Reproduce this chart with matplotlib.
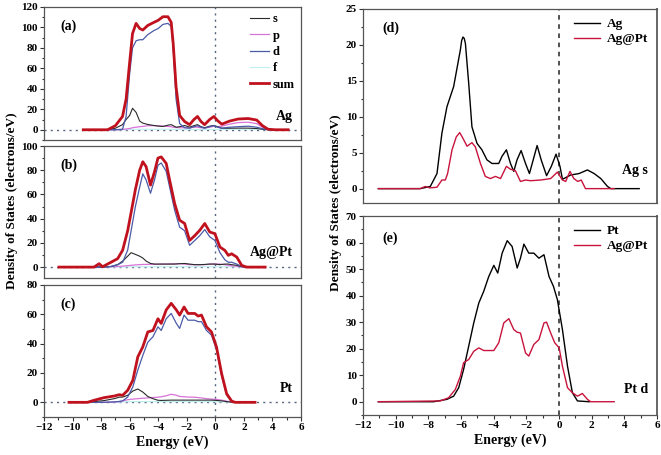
import matplotlib
matplotlib.use("Agg")
import matplotlib.pyplot as plt
from matplotlib.ticker import MultipleLocator, AutoMinorLocator

plt.rcParams['font.family'] = ['Liberation Serif', 'DejaVu Serif']
plt.rcParams['font.weight'] = 'bold'

# (a) Ag projected DOS
e_a = [-9.25, -7.55, -7.0, -6.5, -6.25, -6.0, -5.8, -5.55, -5.3, -5.08, -4.73, -4.3, -4.0, -3.67, -3.32,
       -3.09, -2.95, -2.75, -2.5, -2.15, -1.8, -1.5, -1.25, -1.0, -0.75, -0.4, -0.1, 0.15, 0.45, 1.0,
       1.6, 2.3, 2.9, 3.3, 3.7, 4.2, 5.1]
s_a = [0, 0, 1.5, 5, 10, 14, 21, 17, 8.5, 6.5, 5.2, 4.2, 3.6, 3.2, 4.5, 5, 4, 2.5, 3, 4.2, 2.6, 4, 5, 3, 2,
       3.5, 4.2, 3, 1.5, 1.5, 1.6, 1.6, 1.2, 0.5, 0, 0, 0]
p_a = [0, 0, 0, 0.3, 0.8, 1.2, 2, 2.5, 3, 3.3, 4, 4, 3.8, 3.6, 3.2, 3, 2.5, 2.2, 2, 2, 2, 2.5, 2.5, 2, 1.8,
       2.5, 3.5, 3, 3.5, 5.5, 7, 7.4, 6, 2.5, 0.3, 0, 0]
d_a = [0, 0, 0, 0.5, 13, 55, 80, 87, 88, 88, 93, 97, 99, 103, 104, 101, 80, 30, 6, 2, 1.5, 3, 4, 2.5, 1.5,
       3, 4, 2.5, 1.5, 2.5, 3, 3.5, 2.5, 1, 0.2, 0, 0]
f_a = [0, 0, 0, 0, 0.1, 0.3, 0.4, 0.5, 0.5, 0.5, 0.5, 0.5, 0.5, 0.5, 0.5, 0.5, 0.4, 0.3, 0.2, 0.2, 0.2, 0.3,
       0.3, 0.2, 0.2, 0.3, 0.4, 0.3, 0.3, 0.4, 0.5, 0.5, 0.4, 0.2, 0, 0, 0]
sum_a = [0, 0, 4, 13, 30, 66, 94, 104, 99, 97.5, 102, 105, 107, 110.5, 110.5, 105, 84, 42, 14, 8, 5, 10, 13,
         8, 5, 10, 13, 9, 5.5, 8.5, 10.5, 11, 9.5, 4, 0.5, 0, 0]

# (b) Ag@Pt
e_b = [-10.95, -8.5, -8.14, -7.9, -7.31, -6.84, -6.49, -6.14, -5.9, -5.6, -5.3, -5.08, -4.85, -4.54, -4.26,
       -4.02, -3.79, -3.44, -3.2, -2.85, -2.5, -2.15, -1.8, -1.44, -1.09, -0.74, -0.39, -0.03, 0.32, 0.67,
       0.91, 1.14, 1.5, 1.85, 2.2, 3.49]
s_b = [0, 0, 0.2, 0, 0.5, 2, 5, 9, 11.9, 10.5, 9, 7.5, 5, 3, 2.5, 2.5, 2.5, 2.5, 2.5, 2.5, 2.8, 3, 2.5, 2, 2,
       2.2, 2.5, 2.5, 2, 2.5, 2.5, 2, 1.5, 0.3, 0, 0]
p_b = [0, 0, 0, 0, 0.3, 0.5, 0.8, 1.2, 1.5, 1.8, 2, 2.2, 2.2, 2.3, 2.3, 2.4, 2.5, 2.5, 2.6, 2.7, 2.8, 2.5, 2,
       2, 2, 2, 2.5, 2.5, 2.5, 2, 1.5, 1, 0.7, 0.2, 0, 0]
d_b = [0, 0, 0, 0, 0.5, 2, 4, 14, 30, 50, 66, 77, 72, 61, 72, 84, 86, 79, 66, 47, 33, 30, 18, 22, 26, 31, 25,
       22, 12, 6, 4, 4, 2.5, 0.5, 0, 0]
f_b = [0, 0, 0, 0, 0, 0.1, 0.1, 0.2, 0.2, 0.3, 0.3, 0.3, 0.3, 0.3, 0.3, 0.3, 0.3, 0.3, 0.3, 0.3, 0.3, 0.3,
       0.3, 0.3, 0.3, 0.3, 0.3, 0.3, 0.3, 0.2, 0.2, 0.2, 0.1, 0, 0, 0]
sum_b = [0, 0, 2.8, 0.3, 4, 7, 14, 30, 45, 64, 80, 87, 83, 67.7, 78.7, 90, 91, 85.6, 71.8, 52.5, 38.7, 36, 22,
         26, 30.4, 36, 29, 27.6, 16.6, 13.8, 9.7, 11, 8.3, 1.4, 0, 0]

# (c) Pt
e_c = [-10.25, -8.96, -8.49, -7.79, -7.08, -6.73, -6.49, -6.14, -5.78, -5.43, -5.08, -4.73, -4.37, -4.02,
       -3.79, -3.44, -3.09, -2.73, -2.5, -2.19, -1.91, -1.44, -1.2, -0.97, -0.62, -0.27, 0.08, 0.44, 0.79,
       1.14, 1.38, 2.78]
s_c = [0, 0, 0.5, 1.2, 2.5, 3.5, 3.6, 4.8, 7.7, 9.1, 7, 4, 2.5, 1.4, 1.3, 1.4, 1.5, 1.5, 1.5, 1.5, 1.5, 1.5,
       1.5, 1.5, 1.5, 1.5, 1.3, 1, 0.5, 0.1, 0, 0]
p_c = [0, 0, 0, 0, 0.2, 0.5, 1, 1.8, 2.2, 2.5, 2.8, 3, 3.3, 3.5, 3.8, 4.5, 5.5, 4.8, 4, 3.8, 3.6, 3.5, 3.2,
       3, 2.5, 2.2, 2, 1.5, 0.8, 0.2, 0, 0]
d_c = [0, 0, 0, 0, 0.3, 0.6, 1, 3.6, 10.5, 22, 32, 41, 44.7, 51.5, 49, 57, 60.6, 53.8, 50.4, 59.5, 56, 56, 55,
       55, 49, 45.8, 36, 18, 5, 0.5, 0, 0]
f_c = [0, 0, 0, 0, 0.1, 0.2, 0.3, 0.4, 0.5, 0.5, 0.5, 0.5, 0.5, 0.5, 0.5, 0.5, 0.5, 0.5, 0.5, 0.5, 0.5, 0.5,
       0.5, 0.5, 0.5, 0.5, 0.4, 0.3, 0.2, 0.1, 0, 0]
sum_c = [0, 0, 1.4, 3.2, 4.3, 5.2, 4.8, 8.2, 15, 31, 37.8, 48, 49, 57, 53.8, 63, 67.5, 63, 59.5, 65, 60.6,
         60.6, 58.8, 59.5, 51.5, 48, 37.8, 19.6, 5.9, 0.9, 0, 0]

# (d) Ag s states
e_ag = [-11.06, -8.5, -7.88, -7.47, -7.17, -6.86, -6.45, -6.04, -5.96, -5.88, -5.8, -5.73, -5.53, -5.33,
        -5.02, -4.72, -4.41, -4.1, -3.69, -3.49, -3.22, -2.97, -2.77, -2.57, -2.32, -2.05, -1.81, -1.58,
        -1.34, -1.09, -0.76, -0.47, -0.18, 0.06, 0.21, 0.72, 1.23, 1.74, 2.15, 2.56, 2.97, 3.17, 4.91]
ag_s = [0, 0, 0.3, 2.1, 7.7, 11.4, 14.2, 19.3, 20.6, 21.1, 20.9, 20.2, 14.7, 8.6, 6.3, 5.4, 4.0, 3.5, 3.5,
        4.5, 5.4, 3.5, 2.4, 4, 5.3, 3.5, 2.1, 4, 6.0, 4, 1.8, 3.1, 4.8, 3.1, 1.3, 1.9, 2.1, 2.6, 2.1, 1.4,
        0.3, 0, 0]
e_agpt_s = [-11.06, -8.5, -8.19, -7.9, -7.47, -7.17, -6.96, -6.82, -6.55, -6.29, -6.08, -5.88, -5.63, -5.33,
            -5.12, -4.81, -4.51, -4.2, -3.89, -3.58, -3.22, -2.97, -2.67, -2.36, -2.05, -1.74, -1.12, -0.51,
            -0.1, 0.21, 0.41, 0.67, 0.91, 1.15, 1.36, 1.62, 3.38]
agpt_s = [0, 0, 0.3, 0.1, 0.2, 1.2, 1.2, 2.1, 5.4, 7.2, 7.8, 7.0, 5.9, 6.4, 5.8, 3.5, 1.7, 1.4, 1.7, 1.4, 3.1,
          2.7, 2.5, 1.0, 1.2, 1.1, 1.2, 1.4, 2.3, 1.2, 1.0, 2.4, 1.4, 1.0, 1.2, 0, 0]

# (e) Pt d states
e_pt = [-11.06, -7.68, -6.86, -6.45, -6.14, -5.84, -5.53, -5.22, -4.91, -4.61, -4.30, -3.99, -3.75, -3.48,
        -3.17, -2.87, -2.56, -2.36, -2.15, -1.85, -1.54, -1.23, -0.92, -0.61, -0.34, -0.1, 0.21, 0.52, 0.82,
        1.13, 1.85]
pt_d = [0, 0, 0.9, 2.1, 5.3, 12.2, 20.9, 29.7, 37.2, 41.6, 47.2, 51.4, 48.5, 56, 60.7, 58.5, 50.4, 54.1, 59.4,
        56, 56, 54.1, 55.4, 47.2, 43.5, 38.5, 27.2, 13.4, 3.4, 0.3, 0]
e_agpt_d = [-11.06, -7.27, -6.76, -6.35, -6.04, -5.84, -5.53, -5.22, -4.91, -4.61, -3.99, -3.69, -3.38, -3.07,
            -2.77, -2.56, -2.36, -2.05, -1.85, -1.54, -1.23, -0.92, -0.76, -0.51, -0.26, 0.01, 0.21, 0.52,
            0.82, 1.13, 1.43, 1.74, 1.94, 3.38]
agpt_d = [0, 0.3, 1.5, 4.6, 9.6, 14.7, 15.9, 19, 20.3, 19.3, 19.3, 22.2, 29.7, 31.3, 27.2, 26.2, 25.9, 18.4,
          17.2, 21.6, 23.4, 29.7, 30, 25.9, 22.2, 20.3, 13.4, 5.3, 3.4, 2.1, 3.1, 0.9, 0, 0]

fig = plt.figure(figsize=(6.61, 4.55), dpi=100)

W, H = 661.0, 455.0
def box(x0, y0, x1, y1):
    return [x0 / W, 1 - y1 / H, (x1 - x0) / W, (y1 - y0) / H]

ax_a = fig.add_axes(box(44, 7, 301, 140))
ax_b = fig.add_axes(box(44, 146, 301, 278))
ax_c = fig.add_axes(box(44, 285, 301, 417))
ax_d = fig.add_axes(box(363, 9, 657, 203))
ax_e = fig.add_axes(box(363, 216, 657, 415))

spine_col = '#555555'
dot_col = '#56657f'

def style(ax, ylim, ymajor, xlabels):
    ax.set_xlim(-12, 6)
    ax.set_ylim(*ylim)
    ax.xaxis.set_major_locator(MultipleLocator(2))
    ax.xaxis.set_minor_locator(AutoMinorLocator(2))
    ax.yaxis.set_major_locator(MultipleLocator(ymajor))
    ax.yaxis.set_minor_locator(AutoMinorLocator(2))
    ax.tick_params(which='both', direction='out', labelsize=8, width=0.8, color='#333333', pad=1.5)
    ax.tick_params(which='major', length=3)
    ax.tick_params(which='minor', length=1.8)
    ax.tick_params(axis='both', which='both', top=False, right=False)
    for sp in ax.spines.values():
        sp.set_color(spine_col)
        sp.set_linewidth(0.9)
    if not xlabels:
        ax.tick_params(axis='x', which='both', bottom=False, labelbottom=False)
    for t in ax.get_xticklabels() + ax.get_yticklabels():
        t.set_fontweight('bold')

left_panels = [
    (ax_a, e_a, s_a, p_a, d_a, f_a, sum_a, (-10, 120), '(a)', 'Ag', 0.15),
    (ax_b, e_b, s_b, p_b, d_b, f_b, sum_b, (-9, 100), '(b)', 'Ag@Pt', 0.17),
    (ax_c, e_c, s_c, p_c, d_c, f_c, sum_c, (-10, 80), '(c)', 'Pt', 0.19),
]
for ax, e, s, p, d, f, tot, ylim, tag, name, ny in left_panels:
    ax.axhline(0, color=dot_col, lw=1.0, ls=(0, (1.5, 3)), zorder=1)
    ax.axvline(0, color=dot_col, lw=1.0, ls=(0, (1.5, 3)), zorder=1)
    ax.plot(e, f, color='#bdeef0', lw=0.8, label='f', zorder=2)
    ax.plot(e, p, color='#d873d8', lw=0.9, label='p', zorder=3)
    ax.plot(e, s, color='#2a2a2a', lw=0.8, label='s', zorder=3)
    ax.plot(e, d, color='#4a5aa8', lw=0.9, label='d', zorder=4)
    ax.plot(e, tot, color='#c0121e', lw=2.0, label='sum', zorder=5)
    style(ax, ylim, 20, ax is ax_c)
    ax.text(0.065, 0.83, tag, transform=ax.transAxes, fontsize=10, fontweight='bold')
    ax.text(0.97, ny, name, transform=ax.transAxes, fontsize=10, fontweight='bold', ha='right')

# legend in (a) in the order s, p, d, f, sum
hs, ls_ = ax_a.get_legend_handles_labels()
order = [ls_.index(k) for k in ['s', 'p', 'd', 'f', 'sum']]
ax_a.legend([hs[i] for i in order], [ls_[i] for i in order], loc='upper right', frameon=False,
            handlelength=1.5, handletextpad=0.3, labelspacing=0.35,
            borderaxespad=0.1, prop={'weight': 'bold', 'size': 9})

ax_c.set_xlabel('Energy (eV)', fontsize=10, fontweight='bold', labelpad=2)

# right column
ax_d.plot(e_ag, ag_s, color='black', lw=1.0, label='Ag')
ax_d.plot(e_agpt_s, agpt_s, color='#c8143c', lw=1.0, label='Ag@Pt')
ax_e.plot(e_pt, pt_d, color='black', lw=1.0, label='Pt')
ax_e.plot(e_agpt_d, agpt_d, color='#c8143c', lw=1.0, label='Ag@Pt')

for ax, ylim, ymaj, tag, name, ny, ty in [(ax_d, (-2, 25), 5, '(d)', 'Ag s', 0.15, 0.88),
                                          (ax_e, (-5, 70), 10, '(e)', 'Pt d', 0.11, 0.87)]:
    ax.axvline(0, color='#222222', lw=1.1, ls=(0, (3, 3)), zorder=1)
    style(ax, ylim, ymaj, ax is ax_e)
    ax.text(0.065, ty, tag, transform=ax.transAxes, fontsize=10, fontweight='bold')
    ax.text(0.97, ny, name, transform=ax.transAxes, fontsize=10, fontweight='bold', ha='right')
    ax.legend(loc='upper right', frameon=False, handlelength=2.0, handletextpad=0.5,
              labelspacing=0.2, borderaxespad=0.3, prop={'weight': 'bold', 'size': 9.5})
    ax.spines['right'].set_linewidth(1.4)
    ax.spines['right'].set_color('#666666')

ax_e.set_xlabel('Energy (eV)', fontsize=10, fontweight='bold', labelpad=2)

fig.text(0.018, 0.56, 'Density of States (electrons/eV)', rotation=90, ha='center', va='center',
         fontsize=9.5, fontweight='bold')
fig.text(0.509, 0.555, 'Density of States (electrons/eV)', rotation=90, ha='center', va='center',
         fontsize=9.5, fontweight='bold')

fig.savefig('out.png', dpi=100)
